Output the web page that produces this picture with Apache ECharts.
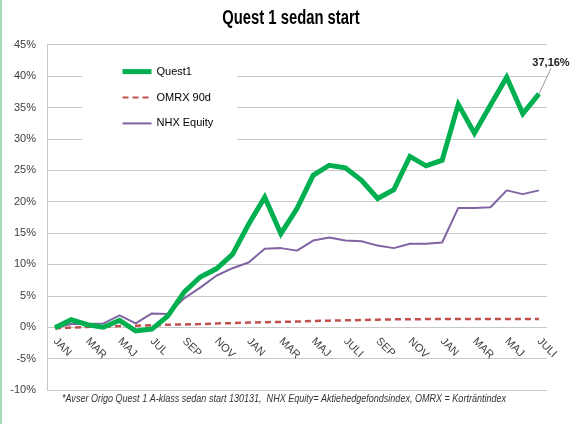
<!DOCTYPE html>
<html><head><meta charset="utf-8">
<script src="https://cdn.jsdelivr.net/npm/echarts@6/dist/echarts.min.js"></script>
<style>html,body{margin:0;padding:0;background:#fff}#c{width:572px;height:424px}</style>
</head><body><div id="c"></div>
<script>
const categories = ['JAN','FEB','MAR','APR','MAJ','JUN','JUL','AUG','SEP','OKT','NOV','DEC',
  'JAN','FEB','MAR','APR','MAJ','JUN','JULI','AUG','SEP','OKT','NOV','DEC',
  'JAN','FEB','MAR','APR','MAJ','JUN','JULI'];
const quest1 = [-0.1, 1.2, 0.4, 0.0, 1.1, -0.6, -0.3, 1.8, 5.6, 8.0, 9.3, 11.6,
  16.4, 20.7, 14.9, 18.9, 24.2, 25.8, 25.4, 23.4, 20.5, 21.9, 27.2, 25.7,
  26.6, 35.5, 30.9, 35.4, 39.8, 34.0, 37.16];
const omrx = [-0.2, -0.05, 0.05, 0.1, 0.2, 0.25, 0.3, 0.4, 0.45, 0.5, 0.6, 0.65,
  0.75, 0.8, 0.85, 0.9, 1.0, 1.05, 1.1, 1.15, 1.2, 1.25, 1.25, 1.3,
  1.3, 1.3, 1.3, 1.3, 1.3, 1.3, 1.3];
const nhx = [-0.1, 0.5, 0.5, 0.6, 1.9, 0.6, 2.2, 2.1, 4.6, 6.3, 8.2, 9.4,
  10.3, 12.5, 12.6, 12.2, 13.8, 14.3, 13.8, 13.7, 13.0, 12.6, 13.3, 13.3,
  13.5, 19.0, 19.0, 19.1, 21.8, 21.2, 21.8];
const seriesNames = ['Quest1', 'OMRX 90d', 'NHX Equity'];
const titleText = 'Quest 1 sedan start';
const footnote = '*Avser Origo Quest 1 A-klass sedan start 130131,  NHX Equity= Aktiehedgefondsindex, OMRX = Korträntindex';
const lastLabel = '37,16%';

const FONT = '"Liberation Sans", Arial, sans-serif';
const LAST = quest1.length - 1;
const chart = echarts.init(document.getElementById('c'), null, {renderer: 'canvas'});
const q1Data = quest1.map((v, i) => i === LAST ? {
  value: v, symbol: 'circle', symbolSize: 1,
  label: {show: true, formatter: lastLabel, fontFamily: FONT, fontWeight: 'bold', fontSize: 11, color: '#222'}
} : v);

chart.setOption({
  animation: false,
  backgroundColor: '#fff',
  grid: [
    {left: 47, right: 25, top: 44.7, bottom: 34},
    {left: 47, right: 25, top: 44.7, height: 282}
  ],
  legend: {
    data: [
      {name: seriesNames[0], lineStyle: {width: 5}},
      {name: seriesNames[1]},
      {name: seriesNames[2]}
    ],
    orient: 'vertical', left: 82, top: 52,
    padding: [14, 24, 14, 38], backgroundColor: '#fff',
    itemWidth: 29, itemHeight: 14, itemGap: 14.7,
    itemStyle: {opacity: 0},
    textStyle: {fontFamily: FONT, fontSize: 11, color: '#000'}
  },
  xAxis: [
    {type: 'category', gridIndex: 0, data: categories, boundaryGap: true,
      axisLine: {show: false}, axisTick: {show: false}, axisLabel: {show: false}, splitLine: {show: false}},
    {type: 'category', gridIndex: 1, data: categories, boundaryGap: true,
      axisLine: {show: false}, axisTick: {show: false}, splitLine: {show: false},
      axisLabel: {interval: 1, rotate: -45, margin: 13, fontFamily: FONT, fontSize: 11, color: '#404040'}}
  ],
  yAxis: [
    {type: 'value', gridIndex: 0, min: -10, max: 45, interval: 5,
      axisLine: {show: true, lineStyle: {color: '#c8c8c8'}},
      axisTick: {show: false},
      axisLabel: {formatter: '{value}%', margin: 11, fontFamily: FONT, fontSize: 11, color: '#404040'},
      splitLine: {lineStyle: {color: '#c8c8c8', width: 1}}},
    {type: 'value', gridIndex: 1, min: 0, max: 45, show: false}
  ],
  series: [
    {name: seriesNames[0], type: 'line', data: q1Data, symbol: 'none', z: 5,
      lineStyle: {color: '#00B050', width: 5, join: 'miter'}, itemStyle: {color: '#00B050'},
      labelLine: {show: true, lineStyle: {color: '#999', width: 1}},
      labelLayout: function (p) {
        return p.dataIndex === LAST ? {x: 551, y: 63, align: 'center', verticalAlign: 'middle'} : {};
      }},
    {name: seriesNames[1], type: 'line', data: omrx, symbol: 'none', z: 3,
      lineStyle: {color: '#C0504D', width: 2.5, type: [6, 4]}, itemStyle: {color: '#C0504D'}},
    {name: seriesNames[2], type: 'line', data: nhx, symbol: 'none', z: 4,
      lineStyle: {color: '#8064A2', width: 2}, itemStyle: {color: '#8064A2'}}
  ],
  graphic: [
    {type: 'rect', shape: {x: 0, y: 0, width: 2, height: 424}, style: {fill: '#a6dcb6'}, silent: true},
    {type: 'text', x: 291, y: 18.5, scaleX: 0.74,
      style: {text: titleText, font: 'bold 20px ' + FONT, fill: '#000', align: 'center', verticalAlign: 'middle'}},
    {type: 'text', x: 62, y: 399, scaleX: 0.86,
      style: {text: footnote, font: 'italic 10.5px ' + FONT, fill: '#333', verticalAlign: 'middle'}}
  ]
});
</script></body></html>
